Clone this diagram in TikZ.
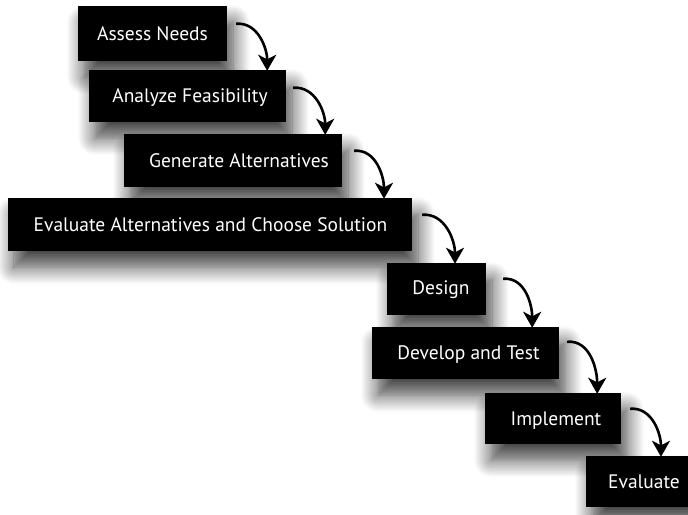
\documentclass[tikz,border=0pt]{standalone}
\usepackage{fontspec}
\setmainfont{PT Sans}
\usetikzlibrary{shadows.blur,arrows.meta,calc}
\tikzset{
  stepbox/.style={fill=black, draw=none, inner sep=0pt,
    blur shadow={shadow xshift=6pt, shadow yshift=-16pt, shadow blur radius=17pt, shadow blur steps=12, shadow opacity=75}},
  steptext/.style={text=white, font=\fontsize{19.5}{22}\selectfont, inner sep=0pt, anchor=base},
  flow/.style={line width=2.6pt, -{Stealth[length=16pt,width=18pt,inset=4.5pt]}, shorten >=-1pt}
}
\begin{document}
\begin{tikzpicture}[x=1pt,y=-1pt]
\useasboundingbox (0,0) rectangle (688,514);
% boxes
\node[stepbox, minimum width=149pt, minimum height=55pt] (n1) at (152.5,33.5) {};
\node[steptext] (t1) at (152.5,40.2) {Assess Needs};
\node[stepbox, minimum width=197pt, minimum height=52pt] (n2) at (187.5,96) {};
\node[steptext] (t2) at (190,102.7) {Analyze Feasibility};
\node[stepbox, minimum width=218pt, minimum height=53pt] (n3) at (233,160.5) {};
\node[steptext] (t3) at (239,167.2) {Generate Alternatives};
\node[stepbox, minimum width=404pt, minimum height=53pt] (n4) at (210,224.5) {};
\node[steptext] (t4) at (210.5,231.2) {Evaluate Alternatives and Choose Solution};
\node[stepbox, minimum width=99pt, minimum height=52pt] (n5) at (436.5,289) {};
\node[steptext] (t5) at (441,294.5) {Design};
\node[stepbox, minimum width=187pt, minimum height=52pt] (n6) at (465.5,353) {};
\node[steptext] (t6) at (468.5,359.7) {Develop and Test};
\node[stepbox, minimum width=136pt, minimum height=51pt] (n7) at (553,418.5) {};
\node[steptext] (t7) at (556,425.2) {Implement};
\node[stepbox, minimum width=114pt, minimum height=51pt] (n8) at (643,481.5) {};
\node[steptext] (t8) at (644,488.2) {Evaluate};
% arrow start points
\coordinate (s1) at ($(n1.north east)+(9,18)$);
\coordinate (s2) at ($(n2.north east)+(7,18)$);
\coordinate (s3) at ($(n3.north east)+(12,17)$);
\coordinate (s4) at ($(n4.north east)+(10,17)$);
\coordinate (s5) at ($(n5.north east)+(17,16)$);
\coordinate (s6) at ($(n6.north east)+(8,15)$);
\coordinate (s7) at ($(n7.north east)+(9,16)$);
% connectors
\draw[flow] (s1) to[out=5,in=90] ($(n2.north east)+(-19,0)$);
\draw[flow] (s2) to[out=5,in=90] ($(n3.north east)+(-17,0)$);
\draw[flow] (s3) to[out=5,in=90] ($(n4.north)+(174,0)$);
\draw[flow] (s4) to[out=5,in=90] ($(n5.north)+(18.5,0)$);
\draw[flow] (s5) to[out=5,in=90] ($(n6.north east)+(-27,0)$);
\draw[flow] (s6) to[out=5,in=90] ($(n7.north east)+(-24,0)$);
\draw[flow] (s7) to[out=5,in=90] ($(n8.north)+(18,0)$);
\end{tikzpicture}
\end{document}
